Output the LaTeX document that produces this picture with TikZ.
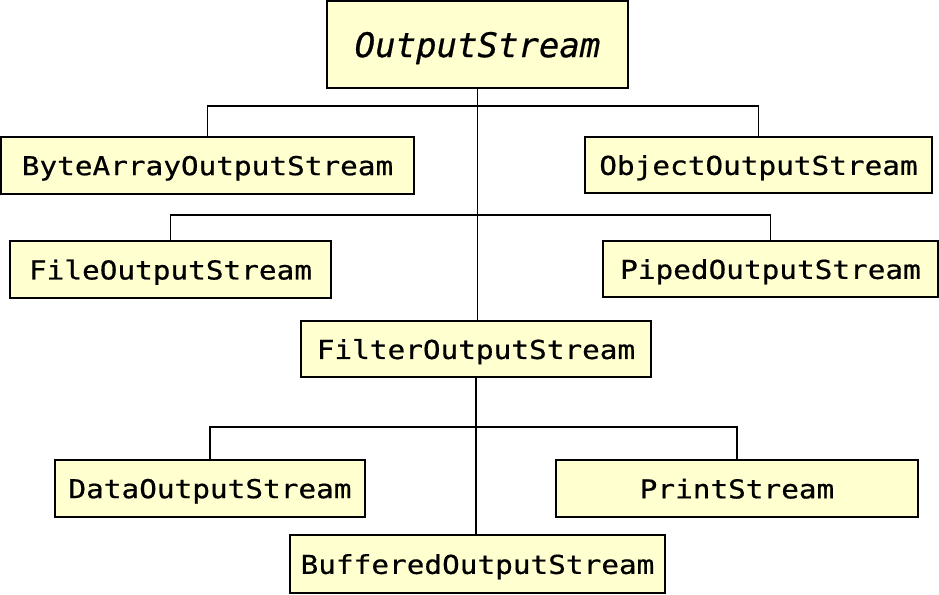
\documentclass[tikz,border=0pt]{standalone}
\usepackage{fontspec}
\newfontfamily\boxfont[FakeStretch=1.13,FakeBold=0.6]{DejaVu Sans Mono}
\newfontfamily\topfont[FakeBold=0.6]{DejaVu Sans Mono}
\definecolor{boxfill}{RGB}{255,255,208}
\tikzset{
  cls/.style={draw=black, line width=1.2pt, fill=boxfill, inner sep=0pt,
    text depth=0pt, font=\boxfont\fontsize{26}{30}\selectfont, text=black},
  link/.style={draw=black, line width=1.2pt},
}
\begin{document}
\begin{tikzpicture}[x=1pt,y=-1pt]
\useasboundingbox (0,0) rectangle (939,594);
% boxes: center, width, height
\node[cls, minimum width=301, minimum height=87, font=\topfont\itshape\fontsize{34}{40}\selectfont] (os) at (477.5,44.5) {OutputStream};
\node[cls, minimum width=413, minimum height=57] (ba) at (207.5,165.5) {ByteArrayOutputStream};
\node[cls, minimum width=347, minimum height=56] (oo) at (758.5,165) {ObjectOutputStream};
\node[cls, minimum width=321, minimum height=57] (fo) at (170.5,269.5) {FileOutputStream};
\node[cls, minimum width=335, minimum height=56] (po) at (770.5,269) {PipedOutputStream};
\node[cls, minimum width=350, minimum height=56] (fi) at (476,349) {FilterOutputStream};
\node[cls, minimum width=310, minimum height=57] (do) at (210,488.5) {DataOutputStream};
\node[cls, minimum width=362, minimum height=57] (ps) at (737,488.5) {PrintStream};
\node[cls, minimum width=375, minimum height=58] (bo) at (477.5,564) {BufferedOutputStream};
% junctions
\coordinate (j1) at (477.5,106);
\coordinate (j2) at (477.5,215);
\coordinate (j3) at (476,427);
% connectors
\draw[link] (os.south) -- (fi.north -| os.south);
\draw[link] (ba.north) |- (j1) -| (oo.north);
\draw[link] (fo.north) |- (j2) -| (po.north);
\draw[link] (fi.south) -- (bo.north -| fi.south);
\draw[link] (do.north) |- (j3) -| (ps.north);
\end{tikzpicture}
\end{document}
